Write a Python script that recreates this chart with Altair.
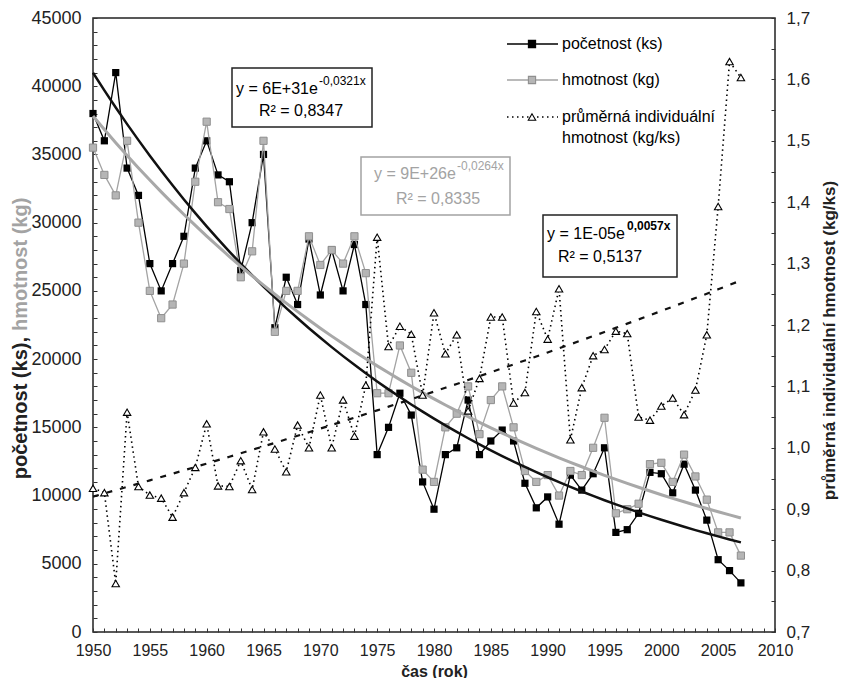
import altair as alt
import numpy as np
import pandas as pd

# ---------------- data ----------------
years = list(range(1950, 2008))

pocetnost = [38000, 36000, 41000, 34000, 32000, 27000, 25000, 27000, 29000, 34000,
             36000, 33500, 33000, 26500, 30000, 35000, 22300, 26000, 24000, 28800,
             24700, 28000, 25000, 28400, 24000, 13000, 15000, 17500, 15900, 11000,
             9000, 13000, 13500, 17000, 13000, 14000, 14800, 14000, 10900, 9100,
             9900, 7900, 11500, 10400, 11600, 13500, 7300, 7500, 8700, 11700,
             11600, 10200, 12300, 10400, 8200, 5300, 4500, 3600]

hmotnost = [35500, 33500, 32000, 36000, 30000, 25000, 23000, 24000, 27000, 33000,
            37400, 31500, 31000, 26000, 27900, 36000, 22000, 25000, 25000, 29000,
            26900, 28000, 27000, 29000, 26300, 17500, 17500, 21000, 19000, 11900,
            11000, 15000, 16000, 18000, 14500, 17000, 18000, 15000, 11800, 11000,
            11500, 10000, 11800, 11500, 13500, 15700, 8700, 9000, 9400, 12300,
            12400, 11000, 13000, 11400, 9700, 7300, 7300, 5600]

prumer = [0.934, 0.927, 0.779, 1.058, 0.937, 0.923, 0.918, 0.887, 0.927, 0.968,
          1.039, 0.938, 0.937, 0.979, 0.932, 1.026, 0.998, 0.961, 1.037, 1.000,
          1.086, 1.000, 1.078, 1.019, 1.102, 1.343, 1.165, 1.198, 1.185, 1.086,
          1.220, 1.153, 1.184, 1.060, 1.113, 1.213, 1.213, 1.073, 1.090, 1.222,
          1.177, 1.259, 1.013, 1.098, 1.150, 1.160, 1.190, 1.186, 1.050, 1.045,
          1.068, 1.081, 1.054, 1.094, 1.184, 1.393, 1.629, 1.603]

x_ticks = list(range(1950, 2011))
left_ticks = list(range(0, 45001, 1000))
right_ticks = [round(0.7 + 0.05 * i, 2) for i in range(21)]

# ---------------- exponential trend lines (least squares on ln y, as Excel) ----------------
yrs = np.array(years, dtype=float)


def expfit(vals):
    b, a = np.polyfit(yrs, np.log(np.array(vals, dtype=float)), 1)
    return np.exp(a + b * yrs)


df = pd.DataFrame({
    "rok": years,
    "pocetnost": pocetnost,
    "hmotnost": hmotnost,
    "prumer": prumer,
    "trend_p": expfit(pocetnost),
    "trend_h": expfit(hmotnost),
    "trend_r": expfit(prumer),
})

FONT = "Liberation Sans, Arial, sans-serif"
NARROW = "Liberation Sans Narrow, Liberation Sans, Arial, sans-serif"
GRAY = "#a3a3a3"
OX, OY = 93, 18  # page position of the plot origin

W, H = 682, 614


def X():
    return alt.X(
        "rok:Q",
        scale=alt.Scale(domain=[1950, 2010], nice=False, zero=False),
        axis=alt.Axis(values=x_ticks, format="d",
                      labelExpr="datum.value % 5 == 0 ? datum.label : ''",
                      tickSize=4, offset=-4, domain=False, grid=False,
                      labelFlush=False, labelOverlap=False, labelPadding=10,
                      labelFont=NARROW, labelFontSize=16, labelColor="#222",
                      tickColor="#333", title="čas (rok)", titleFont=FONT,
                      titleFontSize=16, titleFontWeight="bold", titleColor="#222",
                      titleY=43, titleBaseline="middle"),
    )


left_axis = alt.Axis(values=left_ticks, format="d",
                     labelExpr="datum.value % 5000 == 0 ? datum.label : ''",
                     tickSize=4, offset=-4, domain=False, grid=False,
                     labelOverlap=False, labelPadding=12, labelFont=NARROW,
                     labelFontSize=18, labelColor="#222", tickColor="#333", title=None)


def YL(field):
    return alt.Y(field + ":Q", scale=alt.Scale(domain=[0, 45000], nice=False), axis=left_axis)


right_axis = alt.Axis(orient="right", values=right_ticks,
                      labelExpr="(round(datum.value*100) % 10 == 0) ? replace(format(datum.value, '.1f'), '.', ',') : ''",
                      tickSize=4, offset=-4, domain=False, grid=False,
                      labelOverlap=False, labelPadding=11, labelFont=NARROW,
                      labelFontSize=17, labelColor="#222", tickColor="#333",
                      title="průměrná individuální hmotnost (kg/ks)", titleFont=FONT,
                      titleFontSize=17, titleFontWeight="bold", titleColor="#222",
                      titleAngle=270, titleX=58, titleY=322, titleAlign="center",
                      titleBaseline="middle")


def YR(field):
    return alt.Y(field + ":Q", scale=alt.Scale(domain=[0.7, 1.7], nice=False, zero=False),
                 axis=right_axis)


base = alt.Chart(df)

black_line = base.mark_line(
    color="black", strokeWidth=1.3,
    point=alt.OverlayMarkDef(shape="square", filled=True, color="black", size=52),
).encode(x=X(), y=YL("pocetnost"))

gray_line = base.mark_line(
    color=GRAY, strokeWidth=1.3,
    point=alt.OverlayMarkDef(shape="square", filled=True, fill="#b5b5b5", stroke="#8f8f8f",
                             strokeWidth=1, size=52),
).encode(x=X(), y=YL("hmotnost"))

trend_p = base.mark_line(color="#111", strokeWidth=2.5).encode(x=X(), y=YL("trend_p"))
trend_h = base.mark_line(color="#a8a8a8", strokeWidth=3).encode(x=X(), y=YL("trend_h"))

tri_line = base.mark_line(
    color="black", strokeWidth=1.6, strokeDash=[1.5, 3.5],
    point=alt.OverlayMarkDef(shape="triangle-up", filled=True, fill="white", stroke="black",
                             strokeWidth=1.1, size=55),
).encode(x=X(), y=YR("prumer"))

trend_r = base.mark_line(color="#111", strokeWidth=2.2, strokeDash=[6, 8]).encode(
    x=X(), y=YR("trend_r"))

left = alt.layer(black_line, gray_line, trend_p, trend_h)
right = alt.layer(tri_line, trend_r)

# ---------------- annotations (legend, equation boxes, left title) ----------------
anno = pd.DataFrame({"k": [0]})


def txt(s, x, y, size=16, color="black", align="left", weight="normal", angle=0, font=FONT):
    return alt.Chart(anno).mark_text(
        text=s, align=align, baseline="middle", fontSize=size, color=color,
        fontWeight=weight, angle=angle, font=font,
    ).encode(x=alt.value(x - OX), y=alt.value(y - OY))


def box(x1, y1, x2, y2, stroke):
    return alt.Chart(anno).mark_rect(fill="white", stroke=stroke, strokeWidth=1.5).encode(
        x=alt.value(x1 - OX), x2=alt.value(x2 - OX), y=alt.value(y1 - OY), y2=alt.value(y2 - OY))


def hline(x1, x2, y, color, width=1.3, dash=None):
    kw = dict(color=color, strokeWidth=width)
    if dash:
        kw["strokeDash"] = dash
    return alt.Chart(anno).mark_rule(**kw).encode(
        x=alt.value(x1 - OX), x2=alt.value(x2 - OX), y=alt.value(y - OY))


def marker(x, y, shape, fill, stroke, size=52):
    return alt.Chart(anno).mark_point(shape=shape, filled=True, fill=fill, stroke=stroke,
                                      strokeWidth=1.1, size=size, opacity=1).encode(
        x=alt.value(x - OX), y=alt.value(y - OY))


annotations = [
    # legend
    hline(507, 558, 44, "black"),
    marker(532, 44, "square", "black", "black"),
    txt("početnost (ks)", 562, 44),
    hline(507, 558, 80, GRAY),
    marker(532, 80, "square", "#b5b5b5", "#8f8f8f"),
    txt("hmotnost (kg)", 562, 80),
    hline(507, 558, 117, "black", 1.6, [1.5, 3.5]),
    marker(532, 117, "triangle-up", "white", "black", 55),
    txt("průměrná individuální", 562, 117),
    txt("hmotnost (kg/ks)", 562, 138),
    # equation box 1 (početnost)
    box(232, 68, 372, 127, "#222"),
    txt("y = 6E+31e", 236, 89),
    txt("-0,0321x", 319, 81, size=12),
    txt("R² = 0,8347", 301, 111, align="center"),
    # equation box 2 (hmotnost)
    box(361, 157, 510, 215, GRAY),
    txt("y = 9E+26e", 374, 174, color=GRAY),
    txt("-0,0264x", 457, 166, size=12, color=GRAY),
    txt("R² = 0,8335", 438, 199, align="center", color=GRAY),
    # equation box 3 (průměrná hmotnost)
    box(543, 215, 677, 277, "#222"),
    txt("y = 1E-05e", 547, 234),
    txt("0,0057x", 627, 226, size=12, weight="bold"),
    txt("R² = 0,5137", 600, 257, align="center"),
    # left axis title, two colours
    txt("početnost (ks),", 21, 337, size=20, weight="bold", align="right", angle=270, color="#222"),
    txt("hmotnost (kg)", 21, 331, size=20, weight="bold", align="left", angle=270, color=GRAY),
]

chart = alt.layer(left, right, *annotations).resolve_scale(y="independent").properties(
    width=W, height=H,
    autosize=alt.AutoSizeParams(type="none"),
    padding={"left": 85, "top": 10, "right": 64, "bottom": 46},
    background="white",
).configure_view(stroke="#222", strokeWidth=1.5)

chart.save("out.html", embed_options={"renderer": "svg", "actions": False})
